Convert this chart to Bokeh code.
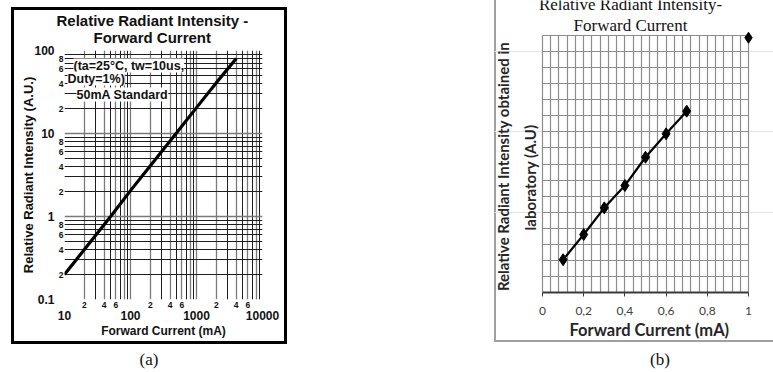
import math
from bokeh.plotting import figure
from bokeh.models import LogAxis, FixedTicker, Grid, Label, Title, Div, Spacer
from bokeh.layouts import row, column
from bokeh.embed import file_html
from bokeh.resources import INLINE

# ---------------- Panel (a) data ----------------
current_a = [10, 20, 50, 100, 200, 500, 1000, 2000, 4000]
intensity_a = [0.2, 0.4, 1.0, 2.05, 4.1, 10.2, 20.5, 41, 80]
x_major_a = [10, 100, 1000, 10000]
x_major_labels_a = ["10", "100", "1000", "10000"]
x_minor_a = [20, 40, 60, 200, 400, 600, 2000, 4000, 6000]
x_minor_labels_a = ["2", "4", "6", "2", "4", "6", "2", "4", "6"]
y_major_a = [0.1, 1, 10, 100]
y_major_labels_a = ["0.1", "1", "10", "100"]
y_minor_a = [0.2, 0.4, 0.6, 0.8, 2, 4, 6, 8, 20, 40, 60, 80]
y_minor_labels_a = ["2", "4", "6", "8"] * 3

# ---------------- Panel (b) data ----------------
current_b = [0.1, 0.2, 0.3, 0.4, 0.5, 0.6, 0.7]
intensity_b = [2.04, 3.61, 5.27, 6.66, 8.42, 9.88, 11.29]
outlier_x = [1.0]
outlier_y = [15.86]
x_ticks_b = [0, 0.2, 0.4, 0.6, 0.8, 1.0]
x_tick_labels_b = ["0", "0,2", "0,4", "0,6", "0,8", "1"]
x_grid_b = [round(i * 0.04, 2) for i in range(26)]
y_grid_b = list(range(17))

SANS = "Liberation Sans"
SERIF = "Liberation Serif"
INK = "#111111"

# =============== Figure (a) ===============
pa = figure(width=276, height=337, x_axis_type="log", y_axis_type="log",
            x_range=(10, 10000), y_range=(0.1, 100), title=None,
            output_backend="svg", toolbar_location=None,
            min_border_left=53, min_border_right=25, min_border_top=43, min_border_bottom=45)
pa.outline_line_color = None
pa.xgrid.visible = False
pa.ygrid.visible = False
pa.border_fill_color = None
pa.background_fill_color = "white"
pa.styles = {"box-shadow": "inset 0 0 0 3px #000000"}


def style_plain_axis(ax, size, standoff):
    ax.major_tick_out = 0
    ax.major_tick_in = 0
    ax.minor_tick_out = 0
    ax.minor_tick_in = 0
    ax.axis_line_color = None
    ax.major_tick_line_color = None
    ax.minor_tick_line_color = None
    ax.major_label_text_font = SANS
    ax.major_label_text_font_style = "bold"
    ax.major_label_text_font_size = size
    ax.major_label_text_color = INK
    ax.major_label_standoff = standoff


xa_min = pa.xaxis[0]
xa_min.ticker = FixedTicker(ticks=x_minor_a)
xa_min.major_label_overrides = dict(zip(x_minor_a, x_minor_labels_a))
style_plain_axis(xa_min, "8.5px", 2)

xa_maj = LogAxis(ticker=FixedTicker(ticks=x_major_a),
                 major_label_overrides=dict(zip(x_major_a, x_major_labels_a)))
style_plain_axis(xa_maj, "12px", 0)
xa_maj.axis_label = "Forward Current (mA)"
xa_maj.axis_label_text_font = SANS
xa_maj.axis_label_text_font_style = "bold"
xa_maj.axis_label_text_font_size = "12px"
xa_maj.axis_label_text_color = INK
xa_maj.axis_label_standoff = 1
pa.add_layout(xa_maj, "below")

ya_min = pa.yaxis[0]
ya_min.ticker = FixedTicker(ticks=y_minor_a)
ya_min.major_label_overrides = dict(zip(y_minor_a, y_minor_labels_a))
style_plain_axis(ya_min, "8.5px", 1)

ya_maj = LogAxis(ticker=FixedTicker(ticks=y_major_a),
                 major_label_overrides=dict(zip(y_major_a, y_major_labels_a)))
style_plain_axis(ya_maj, "12px", 1)
ya_maj.axis_label = "Relative Radiant Intensity (A.U.)"
ya_maj.axis_label_text_font = SANS
ya_maj.axis_label_text_font_style = "bold"
ya_maj.axis_label_text_font_size = "13px"
ya_maj.axis_label_text_color = INK
ya_maj.axis_label_standoff = -5
pa.add_layout(ya_maj, "left")

gray_x = [10, 20, 40, 60, 80, 100, 200, 400, 600, 800, 1000, 2000, 4000, 6000, 8000, 10000]
black_x = [30, 50, 70, 90, 300, 500, 700, 900, 3000, 5000, 7000, 9000]
gray_y = [0.1, 1, 10, 100]
black_y = [0.2, 0.3, 0.4, 0.5, 0.6, 0.7, 0.8, 0.9, 2, 3, 4, 5, 6, 7, 8, 9,
           20, 30, 40, 50, 60, 70, 80, 90]
pa.add_layout(Grid(dimension=0, ticker=FixedTicker(ticks=gray_x),
                   grid_line_color="#7a7a7a", grid_line_width=1.3))
pa.add_layout(Grid(dimension=0, ticker=FixedTicker(ticks=black_x),
                   grid_line_color="#1e1e1e", grid_line_width=1))
pa.add_layout(Grid(dimension=1, ticker=FixedTicker(ticks=gray_y),
                   grid_line_color="#7a7a7a", grid_line_width=1.6))
pa.add_layout(Grid(dimension=1, ticker=FixedTicker(ticks=black_y),
                   grid_line_color="#1e1e1e", grid_line_width=1))

pa.line(current_a, intensity_a, line_color="black", line_width=3.2)

for txt, sx, sy in [("(ta=25°C, tw=10us,", 9, 234), ("Duty=1%)", 3, 221), ("50mA Standard", 12, 205)]:
    pa.add_layout(Label(x=sx, y=sy, x_units="screen", y_units="screen", text=txt,
                        text_font=SANS, text_font_style="bold", text_font_size="12.5px",
                        text_color=INK, text_baseline="middle", text_align="left",
                        background_fill_color="white"))

# titles of (a): first added sits nearest the frame
pa.add_layout(Title(text="Forward Current", align="left", offset=29, standoff=9,
                    text_font=SANS, text_font_style="bold", text_font_size="15px",
                    text_color=INK), "above")
pa.add_layout(Title(text="Relative Radiant Intensity -", align="left", offset=-8, standoff=-12,
                    text_font=SANS, text_font_style="bold", text_font_size="15px",
                    text_color=INK), "above")

cap_a = Div(text='<div style="font-family:\'Liberation Serif\';font-size:17px;line-height:17px;'
                 'padding-top:7px;text-align:center;width:276px;color:#111">(a)</div>',
            width=276, height=28, margin=0)

# =============== Figure (b) ===============
GRID_B = "#8c8c8c"
PX_X = 206.0      # pixels of the 0..1 span
PX_Y = 257.0      # pixels of the 0..16 span
pb = figure(width=279, height=342,
            x_range=(-48 / PX_X, 1 + 25 / PX_X), y_range=(0, 16 * (292 / PX_Y)),
            y_axis_location=None, title=None,
            output_backend="svg", toolbar_location=None,
            min_border_left=0, min_border_right=0, min_border_top=0, min_border_bottom=50)
pb.outline_line_color = None
pb.border_fill_color = None
pb.background_fill_color = None
pb.styles = {"box-shadow": "inset 2px -2px 0 0 #a0a0a0"}
pb.xgrid.visible = False

has_cross = "cross_bounds" in Grid.properties()


def add_grid_b(dim, ticks, cross):
    if has_cross:
        g = Grid(dimension=dim, ticker=FixedTicker(ticks=ticks), bounds=(ticks[0], ticks[-1]),
                 cross_bounds=cross, grid_line_color=GRID_B, grid_line_width=1.2)
        pb.add_layout(g)
    else:
        n = len(ticks)
        if dim == 0:
            pb.segment(x0=ticks, y0=[cross[0]] * n, x1=ticks, y1=[cross[1]] * n,
                       line_color=GRID_B, line_width=1.2)
        else:
            pb.segment(x0=[cross[0]] * n, y0=ticks, x1=[cross[1]] * n, y1=ticks,
                       line_color=GRID_B, line_width=1.2)


add_grid_b(0, x_grid_b, (y_grid_b[0], y_grid_b[-1]))
add_grid_b(1, y_grid_b, (x_grid_b[0], x_grid_b[-1]))

xb = pb.xaxis[0]
xb.bounds = (x_ticks_b[0], x_ticks_b[-1])
xb.ticker = FixedTicker(ticks=x_ticks_b)
xb.major_label_overrides = dict(zip(x_ticks_b, x_tick_labels_b))
xb.axis_line_color = "#3a3a3a"
xb.axis_line_width = 1.8
xb.major_tick_line_color = "#3a3a3a"
xb.major_tick_out = 4
xb.major_tick_in = 0
xb.minor_tick_out = 0
xb.minor_tick_in = 0
xb.major_label_text_font = "Lato"
xb.major_label_text_font_size = "12px"
xb.major_label_text_color = "#404040"
xb.major_label_standoff = 10

pb.add_layout(Title(text="Forward Current (mA)", align="left", offset=75, standoff=0,
                    text_font="Lato", text_font_style="bold", text_font_size="16.5px",
                    text_color="#262626"), "below")

pb.line(current_b, intensity_b, line_color="black", line_width=2.2)
pb.scatter(current_b, intensity_b, marker="diamond", size=12, color="black")
pb.scatter(outlier_x, outlier_y, marker="diamond", size=11, color="black")

pb.add_layout(Label(x=136, y=288, x_units="screen", y_units="screen",
                    text="Relative Radiant Intensity-", text_font=SERIF,
                    text_font_size="17px", text_color=INK, text_align="center",
                    text_baseline="middle"))
pb.add_layout(Label(x=136, y=267, x_units="screen", y_units="screen",
                    text="Forward Current", text_font=SERIF,
                    text_font_size="17px", text_color=INK, text_align="center",
                    text_baseline="middle"))
pb.add_layout(Label(x=8, y=126, x_units="screen", y_units="screen",
                    text="Relative Radiant Intensity obtained in", angle=math.pi / 2,
                    text_font="Lato", text_font_style="bold", text_font_size="15px",
                    text_color="#262626", text_align="center", text_baseline="middle"))
pb.add_layout(Label(x=35, y=115, x_units="screen", y_units="screen",
                    text="laboratory (A.U)", angle=math.pi / 2,
                    text_font="Lato", text_font_style="bold", text_font_size="15px",
                    text_color="#262626", text_align="center", text_baseline="middle"))

cap_b = Div(text='<div style="font-family:\'Liberation Serif\';font-size:17px;line-height:17px;'
                 'padding-top:9px;padding-left:156px;color:#111">(b)</div>',
            width=279, height=30, margin=0)

layout = row(Spacer(width=11, height=10),
             column(Spacer(width=10, height=7), pa, cap_a, spacing=0),
             Spacer(width=207, height=10),
             column(pb, cap_b, spacing=0), spacing=0)

open("out.html", "w").write(file_html(layout, INLINE))
